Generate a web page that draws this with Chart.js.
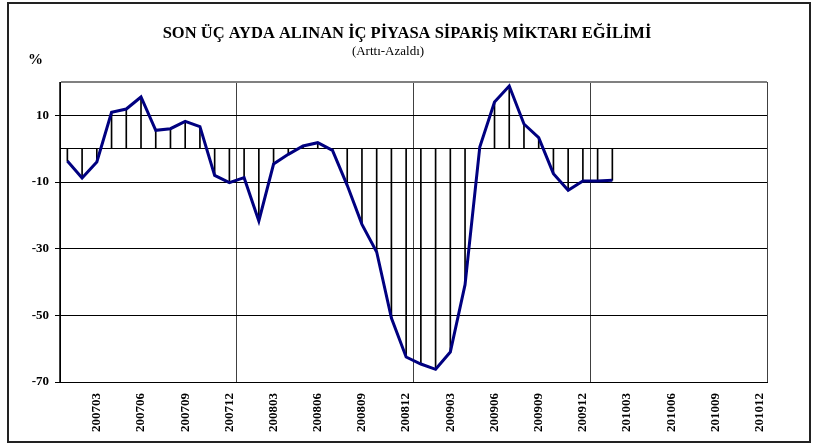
<!DOCTYPE html>
<html>
<head>
<meta charset="utf-8">
<script src="https://cdn.jsdelivr.net/npm/chart.js@4.4.1/dist/chart.umd.min.js"></script>
<style>
  html, body { margin: 0; padding: 0; background: #fff; }
  #wrap { width: 820px; height: 446px; }
</style>
</head>
<body>
<div id="wrap"><canvas id="chart" width="820" height="446"></canvas></div>
<script>
const titleText = 'SON ÜÇ AYDA ALINAN İÇ PİYASA SİPARİŞ MİKTARI EĞİLİMİ';
const subtitleText = '(Arttı-Azaldı)';

const months = [
  '200701','200702','200703','200704','200705','200706','200707','200708','200709','200710','200711','200712',
  '200801','200802','200803','200804','200805','200806','200807','200808','200809','200810','200811','200812',
  '200901','200902','200903','200904','200905','200906','200907','200908','200909','200910','200911','200912',
  '201001','201002','201003','201004','201005','201006','201007','201008','201009','201010','201011','201012'
];

// percent (series ends at 201002)
const values = [
  -3.7, -8.8, -4.0, 10.9, 11.9, 15.5, 5.5, 6.0, 8.2, 6.6, -8.0, -10.2,
  -8.7, -21.7, -4.6, -1.7, 0.8, 1.8, -0.5, -11.0, -22.7, -31.0, -50.8, -62.5,
  -64.6, -66.2, -61.0, -40.8, 0.5, 14.0, 18.8, 7.4, 3.3, -7.5, -12.5, -9.7,
  -9.7, -9.5
];

const yTicks = [-70, -50, -30, -10, 0, 10, 20];

const frameAndText = {
  id: 'frameAndText',
  afterDraw(chart) {
    const ctx = chart.ctx;
    const a = chart.chartArea;
    ctx.save();
    // right edge of the plot box
    ctx.strokeStyle = '#404040';
    ctx.lineWidth = 1;
    ctx.beginPath();
    ctx.moveTo(Math.round(a.right) + 0.5, a.top);
    ctx.lineTo(Math.round(a.right) + 0.5, a.bottom);
    ctx.stroke();

    ctx.strokeStyle = '#222';
    ctx.lineWidth = 2;
    ctx.strokeRect(8, 3, 802, 439);

    ctx.fillStyle = '#000';
    ctx.textBaseline = 'alphabetic';
    ctx.textAlign = 'center';
    ctx.font = 'bold 16.5px "Liberation Serif"';
    ctx.fillText(titleText, 407, 38);
    ctx.font = '13px "Liberation Serif"';
    ctx.fillText(subtitleText, 388, 55);
    ctx.textAlign = 'left';
    ctx.font = 'bold 15px "Liberation Serif"';
    ctx.fillText('%', 28, 64);
    ctx.restore();
  }
};

new Chart(document.getElementById('chart'), {
  type: 'bar',
  data: {
    labels: months,
    datasets: [
      {
        type: 'line',
        data: values,
        borderColor: '#000080',
        borderWidth: 3,
        pointRadius: 0,
        tension: 0,
        order: 0
      },
      {
        type: 'bar',
        data: values,
        backgroundColor: '#000',
        barThickness: 1,
        order: 1
      }
    ]
  },
  options: {
    responsive: false,
    animation: false,
    layout: { padding: { left: 0, right: 53, top: 82, bottom: 0 } },
    plugins: {
      legend: { display: false },
      tooltip: { enabled: false }
    },
    scales: {
      x: {
        offset: true,
        afterFit: s => { s.height = 64; },
        grid: {
          offset: true,
          drawTicks: false,
          color: c => (c.index % 12 === 0 ? '#404040' : 'rgba(0,0,0,0)'),
          lineWidth: 1
        },
        border: { display: true, color: '#000', width: 1 },
        ticks: {
          autoSkip: false,
          minRotation: 90,
          maxRotation: 90,
          padding: 11,
          color: '#000',
          font: { family: 'Liberation Serif', size: 13, weight: 'bold' },
          callback: (v, i) => (i % 3 === 2 ? months[i] : '')
        }
      },
      y: {
        min: -70,
        max: 20,
        afterFit: s => { s.width = 60; },
        afterBuildTicks: s => { s.ticks = yTicks.map(v => ({ value: v })); },
        grid: {
          color: c => (c.tick && c.tick.value === 20 ? '#808080' : '#000'),
          lineWidth: c => (c.tick && c.tick.value === 20 ? 2 : 1),
          tickLength: 5,
          tickColor: c => (c.tick && (c.tick.value === 0 || c.tick.value === 20) ? 'rgba(0,0,0,0)' : '#000')
        },
        border: { display: true, color: '#000', width: 1 },
        ticks: {
          padding: 6,
          color: '#000',
          font: { family: 'Liberation Serif', size: 13, weight: 'bold' },
          callback: v => (v === 0 || v === 20 ? '' : v)
        }
      }
    }
  },
  plugins: [frameAndText]
});
</script>
</body>
</html>
